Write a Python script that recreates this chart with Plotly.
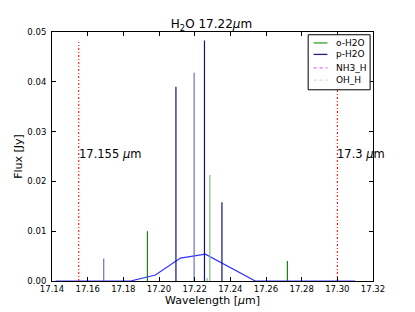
import plotly.graph_objects as go

# o-H2O lines
o_wl = [17.1935, 17.2270, 17.2285, 17.2720]
o_flux = [0.0100, 0.0006, 0.0213, 0.0040]
o_col = ["#1a801a", "#7fc07f", "#7fc07f", "#1a801a"]

# p-H2O lines
p_wl = [17.1690, 17.2095, 17.2197, 17.2255, 17.2353]
p_flux = [0.0045, 0.0390, 0.0418, 0.0483, 0.0158]
p_col = ["#6f6fc8", "#101080", "#6f6fc8", "#101080", "#101080"]

# convolved spectrum
conv_wl = [17.142, 17.156, 17.170, 17.184, 17.198, 17.212, 17.226, 17.240, 17.254, 17.268, 17.282, 17.296, 17.310]
conv_flux = [0.0, 0.0, 0.0, 0.0, 0.0012, 0.0046, 0.0054, 0.0027, 0.0, 0.0, 0.0, 0.0, 0.0]

# marker lines
mark_wl = [17.155, 17.30]
mark_top = 0.048
mark_txt = ["17.155 <i>μ</i>m", "17.3 <i>μ</i>m"]

# legend
leg_names = ["o-H2O", "p-H2O", "NH3_H", "OH_H"]
leg_colors = ["#2ca02c", "#202090", "#ee66ee", "#dde0b0"]
leg_dash = ["solid", "solid", "dot", "dot"]

xticks = [17.14, 17.16, 17.18, 17.20, 17.22, 17.24, 17.26, 17.28, 17.30, 17.32]
yticks = [0.00, 0.01, 0.02, 0.03, 0.04, 0.05]

fig = go.Figure()

def sticks(xs, hs):
    X, Y = [], []
    for x, h in zip(xs, hs):
        X += [x, x, None]
        Y += [0, h, None]
    return X, Y

fig.add_trace(go.Scatter(x=conv_wl, y=conv_flux, mode="lines",
                         line=dict(color="#3030ff", width=1.2), showlegend=False))

for x, h, c in zip(o_wl, o_flux, o_col):
    X, Y = sticks([x], [h])
    fig.add_trace(go.Scatter(x=X, y=Y, mode="lines", line=dict(color=c, width=1.2),
                             showlegend=False))
for x, h, c in zip(p_wl, p_flux, p_col):
    X, Y = sticks([x], [h])
    fig.add_trace(go.Scatter(x=X, y=Y, mode="lines", line=dict(color=c, width=1.2),
                             showlegend=False))

X, Y = sticks(mark_wl, [mark_top] * len(mark_wl))
fig.add_trace(go.Scatter(x=X, y=Y, mode="lines",
                         line=dict(color="red", width=1, dash="2px,2px,1px,2px"),
                         showlegend=False))

for x, t in zip(mark_wl, mark_txt):
    fig.add_annotation(x=x, y=0.0256, text=t, showarrow=False, xanchor="left",
                       yanchor="middle", xshift=-2, font=dict(size=11.5, color="black"))

# manual legend (paper coordinates)
fig.add_shape(type="rect", xref="paper", yref="paper", x0=0.798, x1=0.991, y0=0.768, y1=0.989,
              line=dict(color="black", width=1), fillcolor="white", layer="above")
leg_y = [0.956, 0.910, 0.856, 0.807]
for n, c, d, yy in zip(leg_names, leg_colors, leg_dash, leg_y):
    fig.add_shape(type="line", xref="paper", yref="paper", x0=0.815, x1=0.858, y0=yy, y1=yy,
                  line=dict(color=c, width=1.3, dash=d), layer="above")
    fig.add_annotation(xref="paper", yref="paper", x=0.880, y=yy, text=n, showarrow=False,
                       xanchor="left", yanchor="middle", font=dict(size=9, color="black"))

axis_common = dict(showline=True, linecolor="black", linewidth=1, mirror="allticks",
                   ticks="inside", ticklen=4, tickcolor="black", showgrid=False,
                   zeroline=False, automargin=False, tickfont=dict(size=8.5, color="black"))

# the page body adds an 8px margin, so the figure is sized/margined to compensate
fig.update_layout(
    width=407, height=304,
    margin=dict(l=44, r=42, t=24, b=31),
    paper_bgcolor="white", plot_bgcolor="white",
    font=dict(family="DejaVu Sans", color="black"),
    showlegend=False,
    title=dict(text="H<sub>2</sub>O 17.22<i>μ</i>m", x=0.5, xanchor="center",
               y=0.947, yanchor="middle", font=dict(size=12)),
    xaxis=dict(range=[17.14, 17.32], tickvals=xticks,
               ticktext=[f"{v:.2f}" for v in xticks],
               title=dict(text="Wavelength [<i>μ</i>m]", font=dict(size=11), standoff=2),
               **axis_common),
    yaxis=dict(range=[0, 0.05], tickvals=yticks, ticklabelstandoff=3,
               ticktext=[f"{v:.2f}" for v in yticks],
               title=dict(text="Flux [Jy]", font=dict(size=11), standoff=2),
               **axis_common),
)

fig.write_html("out.html")
